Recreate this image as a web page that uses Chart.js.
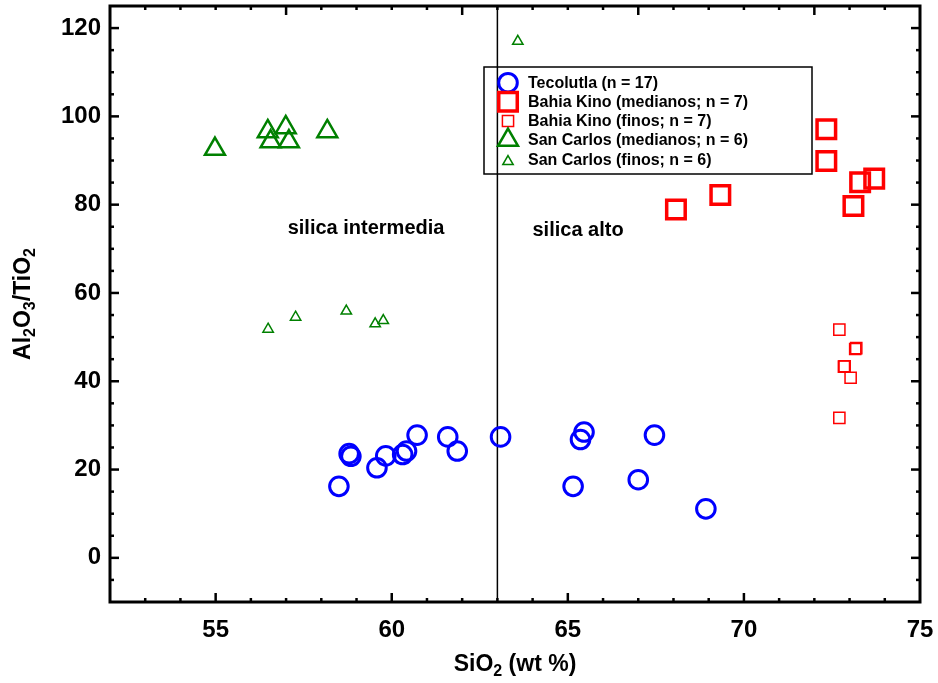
<!DOCTYPE html>
<html>
<head>
<meta charset="utf-8">
<script src="https://cdn.jsdelivr.net/npm/chart.js@4.4.1/dist/chart.umd.min.js"></script>
<style>
  html, body { margin: 0; padding: 0; background: #ffffff; }
  #wrap { width: 938px; height: 683px; }
</style>
</head>
<body>
<div id="wrap"><canvas id="chart" width="938" height="683"></canvas></div>
<script>
// SiO2 (wt %) against Al2O3/TiO2 for each sample group
const tecolutlaSiO2  = [58.50, 58.79, 58.84, 59.58, 59.83, 60.31, 60.42, 60.72, 61.59, 61.86, 63.09, 65.36, 65.46, 65.15, 67.46, 67.00, 68.92];
const tecolutlaRatio = [16.2, 23.6, 23.0, 20.4, 23.1, 23.4, 24.2, 27.8, 27.4, 24.2, 27.4, 26.8, 28.5, 16.2, 27.8, 17.7, 11.1];

const kinoMedSiO2  = [72.34, 72.34, 73.30, 73.70, 73.11, 69.33, 68.07];
const kinoMedRatio = [97.1, 89.9, 85.1, 85.9, 79.7, 82.2, 78.9];

const kinoFinSiO2  = [72.71, 73.16, 73.19, 72.84, 72.86, 73.03, 72.71];
const kinoFinRatio = [51.7, 47.3, 47.5, 43.3, 43.4, 40.8, 31.7];

const carlosMedSiO2  = [54.98, 56.48, 56.56, 56.99, 57.08, 58.17];
const carlosMedRatio = [92.6, 96.6, 94.3, 97.5, 94.3, 96.6];

const carlosFinSiO2  = [56.49, 57.27, 58.71, 59.53, 59.76, 63.58];
const carlosFinRatio = [51.8, 54.5, 55.9, 53.0, 53.75, 117.0];

const seriesNames = [
  'Tecolutla (n = 17)',
  'Bahia Kino (medianos; n = 7)',
  'Bahia Kino (finos; n = 7)',
  'San Carlos (medianos; n = 6)',
  'San Carlos (finos; n = 6)'
];

const xTickValues = [55, 60, 65, 70, 75];
const yTickValues = [0, 20, 40, 60, 80, 100, 120];
const silicaBoundary = 63;
const regionLabels = ['silica intermedia', 'silica alto'];

const FONT = '"Liberation Sans", Arial, Helvetica, sans-serif';

function pairs(xs, ys) { return xs.map((x, i) => ({ x: x, y: ys[i] })); }

const styles = [
  { pointStyle: 'circle',   pointRadius: 9.3,  borderWidth: 3,   color: '#0000ff' },
  { pointStyle: 'rect',     pointRadius: 13.1, borderWidth: 3.5, color: '#ff0000' },
  { pointStyle: 'rect',     pointRadius: 7.9,  borderWidth: 1.5, color: '#ff0000' },
  { pointStyle: 'triangle', pointRadius: 11.5, borderWidth: 2.5, color: '#008000' },
  { pointStyle: 'triangle', pointRadius: 6,    borderWidth: 1.5, color: '#008000' }
];

const seriesData = [
  pairs(tecolutlaSiO2, tecolutlaRatio),
  pairs(kinoMedSiO2, kinoMedRatio),
  pairs(kinoFinSiO2, kinoFinRatio),
  pairs(carlosMedSiO2, carlosMedRatio),
  pairs(carlosFinSiO2, carlosFinRatio)
];

const datasets = seriesData.map((d, i) => ({
  label: seriesNames[i],
  data: d,
  showLine: false,
  pointStyle: styles[i].pointStyle,
  pointRadius: styles[i].pointRadius,
  pointHoverRadius: styles[i].pointRadius,
  pointBorderWidth: styles[i].borderWidth,
  borderColor: styles[i].color,
  backgroundColor: 'rgba(0,0,0,0)',
  pointBackgroundColor: 'rgba(0,0,0,0)'
}));

// marker shapes with the same geometry Chart.js uses for its point styles
function marker(ctx, style, x, y) {
  const r = style.pointRadius;
  ctx.save();
  ctx.strokeStyle = style.color;
  ctx.lineWidth = style.borderWidth;
  ctx.beginPath();
  if (style.pointStyle === 'circle') {
    ctx.arc(x, y, r, 0, Math.PI * 2);
  } else if (style.pointStyle === 'rect') {
    const s = Math.SQRT1_2 * r;
    ctx.rect(x - s, y - s, 2 * s, 2 * s);
  } else {
    let a = 0;
    ctx.moveTo(x + Math.sin(a) * r, y - Math.cos(a) * r);
    a += 2 * Math.PI / 3;
    ctx.lineTo(x + Math.sin(a) * r, y - Math.cos(a) * r);
    a += 2 * Math.PI / 3;
    ctx.lineTo(x + Math.sin(a) * r, y - Math.cos(a) * r);
    ctx.closePath();
  }
  ctx.stroke();
  ctx.restore();
}

// text with subscript runs, e.g. Al2O3
function drawRich(ctx, parts, size, cx, baseline) {
  const subSize = Math.round(size * 0.68);
  const widths = parts.map(p => {
    ctx.font = 'bold ' + (p.sub ? subSize : size) + 'px ' + FONT;
    return ctx.measureText(p.t).width;
  });
  const total = widths.reduce((a, b) => a + b, 0);
  let x = cx - total / 2;
  ctx.textAlign = 'left';
  ctx.textBaseline = 'alphabetic';
  parts.forEach((p, i) => {
    ctx.font = 'bold ' + (p.sub ? subSize : size) + 'px ' + FONT;
    ctx.fillText(p.t, x, baseline + (p.sub ? size * 0.22 : 0));
    x += widths[i];
  });
}

// keep the plot frame where the layout padding puts it
function noLabelPadding(s) {
  s.paddingTop = 0; s.paddingBottom = 0; s.paddingLeft = 0; s.paddingRight = 0;
}

const boundaryLine = {
  id: 'boundaryLine',
  beforeDatasetsDraw(chart) {
    const { ctx, chartArea, scales } = chart;
    const px = scales.x.getPixelForValue(silicaBoundary);
    ctx.save();
    ctx.strokeStyle = '#000';
    ctx.lineWidth = 1.5;
    ctx.beginPath();
    ctx.moveTo(px, chartArea.top);
    ctx.lineTo(px, chartArea.bottom);
    ctx.stroke();
    ctx.restore();
  }
};

const frameAndTicks = {
  id: 'frameAndTicks',
  afterDatasetsDraw(chart) {
    const { ctx, chartArea: a, scales } = chart;
    const xs = scales.x, ys = scales.y;
    ctx.save();
    ctx.strokeStyle = '#000';
    ctx.lineCap = 'butt';
    const MAJ = 9, MIN = 4;
    ctx.lineWidth = 2.5;
    // bottom axis: majors at the labelled values, minors every 1
    for (let v = 53; v <= 74; v++) {
      const p = xs.getPixelForValue(v);
      const len = xTickValues.includes(v) ? MAJ : MIN;
      ctx.beginPath(); ctx.moveTo(p, a.bottom); ctx.lineTo(p, a.bottom - len); ctx.stroke();
    }
    // top axis: majors every 5 from the left edge, minors every 1
    for (let v = 53; v <= 74; v++) {
      const p = xs.getPixelForValue(v);
      const len = ((v - 52) % 5 === 0) ? MAJ : MIN;
      ctx.beginPath(); ctx.moveTo(p, a.top); ctx.lineTo(p, a.top + len); ctx.stroke();
    }
    // left and right axes: majors every 20, minors every 5
    for (let v = -5; v <= 120; v += 5) {
      const p = ys.getPixelForValue(v);
      const len = yTickValues.includes(v) ? MAJ : MIN;
      ctx.beginPath(); ctx.moveTo(a.left, p); ctx.lineTo(a.left + len, p); ctx.stroke();
      ctx.beginPath(); ctx.moveTo(a.right, p); ctx.lineTo(a.right - len, p); ctx.stroke();
    }
    ctx.lineWidth = 3;
    ctx.strokeRect(a.left, a.top, a.right - a.left, a.bottom - a.top);
    ctx.restore();
  },
  afterDraw(chart) {
    const { ctx, chartArea: a, scales } = chart;
    const xs = scales.x, ys = scales.y;
    ctx.save();
    ctx.fillStyle = '#000';

    // region labels either side of the boundary
    ctx.font = 'bold 20px ' + FONT;
    ctx.textAlign = 'center';
    ctx.textBaseline = 'alphabetic';
    ctx.fillText(regionLabels[0], xs.getPixelForValue(59.27), ys.getPixelForValue(73.3));
    ctx.fillText(regionLabels[1], xs.getPixelForValue(65.29), ys.getPixelForValue(72.9));

    // legend box
    const lx = 484, ly = 67, lw = 328, lh = 107;
    ctx.strokeStyle = '#000';
    ctx.lineWidth = 1.5;
    ctx.strokeRect(lx, ly, lw, lh);
    const rows = [82.7, 101.7, 121, 140, 159.3];
    const markerY = [82.7, 101.7, 121, 140, 161.5];
    ctx.font = 'bold 16px ' + FONT;
    ctx.textAlign = 'left';
    ctx.textBaseline = 'middle';
    seriesNames.forEach((name, i) => {
      marker(ctx, styles[i], 508, markerY[i]);
      ctx.fillStyle = '#000';
      ctx.fillText(name, 528, rows[i] + 1);
    });

    // axis titles
    const cx = (a.left + a.right) / 2;
    drawRich(ctx, [{ t: 'SiO' }, { t: '2', sub: true }, { t: ' (wt %)' }], 23, cx, 671);
    ctx.save();
    ctx.translate(30, (a.top + a.bottom) / 2);
    ctx.rotate(-Math.PI / 2);
    drawRich(ctx, [{ t: 'Al' }, { t: '2', sub: true }, { t: 'O' }, { t: '3', sub: true }, { t: '/TiO' }, { t: '2', sub: true }], 23, 0, 0);
    ctx.restore();
    ctx.restore();
  }
};

new Chart(document.getElementById('chart'), {
  type: 'scatter',
  data: { datasets: datasets },
  options: {
    responsive: false,
    animation: false,
    devicePixelRatio: 1,
    layout: { autoPadding: false, padding: { left: 0, top: 6, right: 18, bottom: 0 } },
    plugins: { legend: { display: false }, tooltip: { enabled: false } },
    elements: { point: { hitRadius: 0 } },
    scales: {
      x: {
        type: 'linear',
        min: 52, max: 75,
        afterFit(s) { s.height = 81; noLabelPadding(s); },
        afterBuildTicks(s) { s.ticks = xTickValues.map(v => ({ value: v })); },
        grid: { display: false, drawTicks: false },
        border: { display: false },
        ticks: { color: '#000', padding: 14, maxRotation: 0, autoSkip: false,
                 font: { family: FONT, size: 24, weight: 'bold' } }
      },
      y: {
        type: 'linear',
        min: -10, max: 125,
        afterFit(s) { s.width = 110; noLabelPadding(s); },
        afterBuildTicks(s) { s.ticks = yTickValues.map(v => ({ value: v })); },
        grid: { display: false, drawTicks: false },
        border: { display: false },
        ticks: { color: '#000', padding: 9, autoSkip: false,
                 font: { family: FONT, size: 24, weight: 'bold' } }
      }
    }
  },
  plugins: [boundaryLine, frameAndTicks]
});
</script>
</body>
</html>
